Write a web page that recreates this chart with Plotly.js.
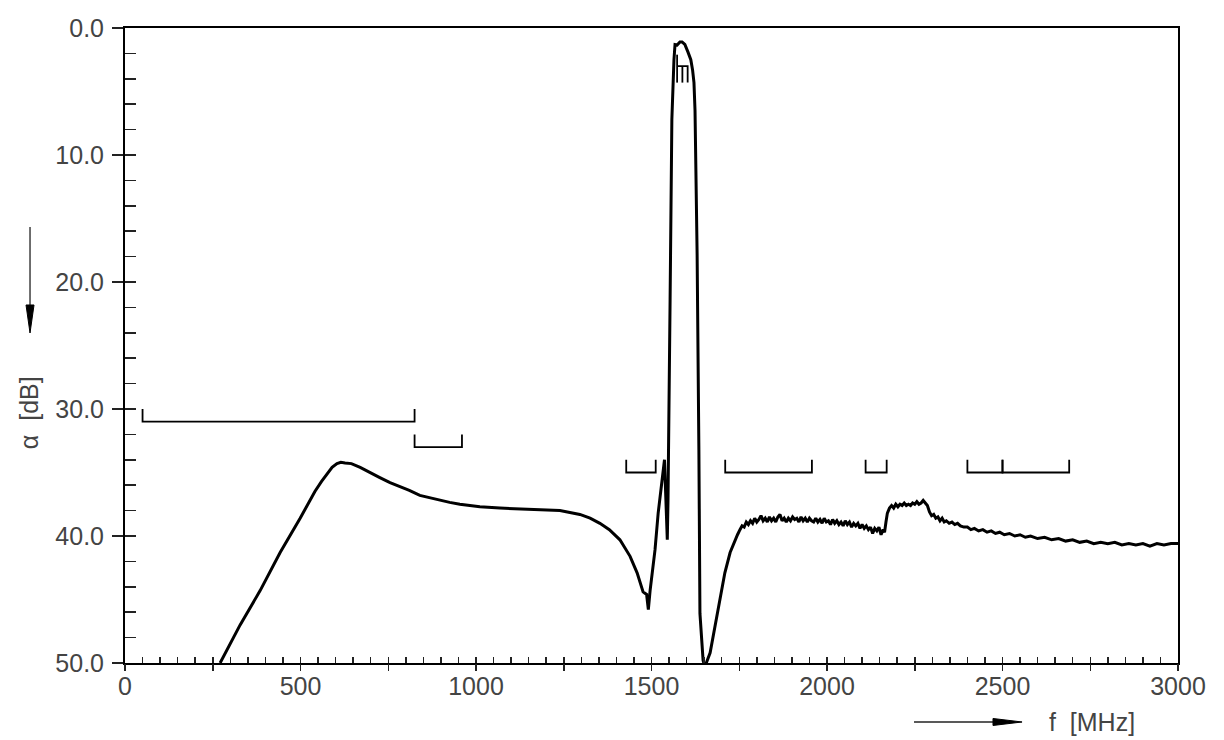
<!DOCTYPE html>
<html>
<head>
<meta charset="utf-8">
<script src="https://cdn.plot.ly/plotly-3.0.1.min.js"></script>
<style>
  html, body { margin: 0; padding: 0; background: #fff; }
  #plot { width: 1224px; height: 740px; }
</style>
</head>
<body>
<div id="plot"></div>
<script>
// measured filter response, read off the plot (f in MHz, attenuation in dB)
// lower stopband up to the left skirt
var lowerF = [
  271, 328, 385, 442, 499, 520, 541, 560, 576, 590,
  604, 615, 627, 645, 670, 700, 726, 755, 783, 810,
  840, 870, 897, 925, 954, 1011, 1068, 1154, 1239, 1296,
  1325, 1353, 1380, 1410, 1439, 1459, 1476, 1486, 1491, 1496,
  1510, 1519, 1529, 1537, 1545, 1547
];
var lowerA = [
  50.0, 47.0, 44.3, 41.3, 38.6, 37.5, 36.5, 35.7, 35.1, 34.6,
  34.3, 34.2, 34.25, 34.3, 34.6, 35.0, 35.4, 35.8, 36.1, 36.4,
  36.8, 37.0, 37.2, 37.35, 37.5, 37.7, 37.8, 37.9, 38.0, 38.3,
  38.6, 39.0, 39.5, 40.3, 41.6, 42.9, 44.4, 44.6, 45.8, 44.3,
  41.1, 38.2, 35.6, 34.0, 40.3, 37.2
];
// passband
var passF = [1553, 1558, 1564, 1567, 1573, 1581, 1587, 1595, 1604, 1612,
             1617, 1621, 1624, 1630, 1635, 1638, 1647, 1652];
var passA = [21.4, 7.2, 2.5, 1.3, 1.34, 1.1, 1.1, 1.3, 1.9, 2.5,
             3.3, 4.3, 6.5, 17.9, 33.2, 46.1, 49.8, 50.3];
// upper stopband
var upperF = [
  1667, 1681, 1695, 1709, 1724, 1738, 1745, 1752, 1758, 1764,
  1770, 1776, 1782, 1788, 1794, 1800, 1806, 1812, 1818, 1824,
  1830, 1836, 1842, 1848, 1854, 1860, 1866, 1872, 1878, 1884,
  1890, 1896, 1902, 1908, 1914, 1920, 1926, 1932, 1938, 1944,
  1950, 1956, 1962, 1968, 1974, 1980, 1986, 1992, 1998, 2004,
  2010, 2016, 2022, 2028, 2034, 2040, 2046, 2052, 2058, 2064,
  2070, 2076, 2082, 2088, 2094, 2100, 2106, 2112, 2118, 2124,
  2130, 2136, 2142, 2148, 2154, 2160, 2164, 2168, 2172, 2178,
  2184, 2190, 2196, 2202, 2208, 2214, 2220, 2226, 2232, 2238,
  2244, 2250, 2256, 2262, 2268, 2274, 2280, 2286, 2292, 2298,
  2304, 2310, 2316, 2322, 2328, 2334, 2340, 2348, 2356, 2364,
  2372, 2380, 2390, 2400, 2410, 2420, 2432, 2444, 2456, 2468,
  2480, 2492, 2505, 2520, 2535, 2550, 2565, 2580, 2600, 2620,
  2640, 2660, 2680, 2700, 2720, 2740, 2760, 2780, 2800, 2820,
  2840, 2860, 2880, 2900, 2920, 2940, 2960, 2980, 3000
];
var upperA = [
  49.2, 47.2, 45.0, 42.9, 41.3, 40.3, 39.9, 39.5, 39.2, 39.3,
  38.9, 39.1, 38.8, 39.0, 38.6, 38.9, 38.7, 38.4, 38.8, 38.6,
  38.9, 38.5, 38.8, 38.6, 38.9, 38.5, 38.3, 38.8, 38.6, 38.9,
  38.6, 38.8, 38.5, 38.7, 38.6, 38.9, 38.5, 38.8, 38.6, 38.9,
  38.6, 38.8, 38.9, 38.6, 38.9, 38.7, 39.0, 38.6, 38.9, 38.8,
  39.1, 38.7, 39.0, 38.8, 39.1, 38.9, 39.2, 38.8, 39.1, 38.9,
  39.3, 39.0, 39.2, 39.0, 39.4, 39.1, 39.4, 39.2, 39.5, 39.3,
  39.8, 39.4, 39.6, 39.3, 39.9, 39.5, 39.7, 38.9, 38.2, 37.8,
  37.6, 37.8, 37.5, 37.7, 37.5, 37.6, 37.4, 37.6, 37.5, 37.6,
  37.4, 37.5, 37.3, 37.5, 37.4, 37.2, 37.4, 37.6, 38.1, 38.4,
  38.3, 38.6, 38.5, 38.8, 38.6, 38.9, 38.8, 39.0, 38.9, 39.1,
  39.0, 39.2, 39.3, 39.3, 39.5, 39.4, 39.6, 39.5, 39.7, 39.6,
  39.8, 39.7, 39.9, 39.8, 40.0, 39.9, 40.1, 40.0, 40.2, 40.1,
  40.3, 40.2, 40.4, 40.3, 40.5, 40.4, 40.6, 40.5, 40.6, 40.5,
  40.7, 40.6, 40.7, 40.6, 40.8, 40.6, 40.7, 40.6, 40.6
];

// stopband requirements (start, end, min attenuation)
var specStart = [50, 825, 1428, 1710, 2110, 2400, 2500];
var specEnd   = [825, 960, 1512, 1957, 2170, 2500, 2690];
var specLevel = [31, 33, 35, 35, 35, 35, 35];

// passband requirement
var pbStart = 1573, pbEnd = 1603, pbLevel = 3.0, pbTickTo = 4.3, pbTop = 2.1;

var fontFam = '"Liberation Sans", Arial, sans-serif';
var labelColor = '#444';

var freqMHz = lowerF.concat(passF, upperF);
var attenDB = lowerA.concat(passA, upperA);

// spec brackets: horizontal line at level, end ticks up by 1 dB
var sx = [], sy = [];
for (var i = 0; i < specStart.length; i++) {
  sx.push(specStart[i], specStart[i], specEnd[i], specEnd[i], null);
  sy.push(specLevel[i] - 1, specLevel[i], specLevel[i], specLevel[i] - 1, null);
}
var pbMid = (pbStart + pbEnd) / 2;
sx.push(pbStart, pbStart, null, pbStart, pbEnd, pbEnd, null, pbMid, pbMid);
sy.push(pbTop, pbTickTo, null, pbLevel, pbLevel, pbTickTo, null, pbLevel, pbTickTo);

var curve = {
  x: freqMHz, y: attenDB, type: 'scatter', mode: 'lines',
  line: {color: '#000', width: 3}, hoverinfo: 'skip'
};
var spec = {
  x: sx, y: sy, xaxis: 'x2', yaxis: 'y2', type: 'scatter', mode: 'lines',
  line: {color: '#000', width: 1.8}, hoverinfo: 'skip'
};
// invisible carrier so the outer tick axis gets its own subplot
var carrier = {
  x: [0], y: [0], xaxis: 'x3', yaxis: 'y', type: 'scatter', mode: 'markers',
  marker: {opacity: 0}, hoverinfo: 'skip'
};

var xLabelVals = [], xLabelText = [], xTickVals = [];
for (var v = 0; v <= 3000; v += 250) {
  xTickVals.push(v);
  if (v % 500 === 0) { xLabelVals.push(v); xLabelText.push(String(v)); }
}

var tickCol = '#222';
var layout = {
  width: 1224, height: 740,
  margin: {l: 125, r: 46, t: 28, b: 77},
  paper_bgcolor: '#fff', plot_bgcolor: '#fff',
  showlegend: false,
  font: {family: fontFam, size: 25, color: labelColor},
  xaxis: {
    range: [0, 3000], tickvals: xLabelVals, ticktext: xLabelText, ticks: '',
    showline: true, linecolor: '#000', linewidth: 2, mirror: true,
    showgrid: false, zeroline: false,
    tickfont: {family: fontFam, size: 25, color: labelColor}
  },
  xaxis2: {
    overlaying: 'x', matches: 'x', anchor: 'y', range: [0, 3000],
    tick0: 0, dtick: 50, ticks: 'inside', ticklen: 6, tickwidth: 1.5, tickcolor: tickCol,
    showticklabels: false, showline: false, showgrid: false, zeroline: false
  },
  xaxis3: {
    overlaying: 'x', matches: 'x', anchor: 'y', range: [0, 3000],
    tickvals: xTickVals, ticks: 'outside', ticklen: 7, tickwidth: 1.5, tickcolor: tickCol,
    showticklabels: false, showline: false, showgrid: false, zeroline: false
  },
  yaxis: {
    range: [50, 0], tick0: 0, dtick: 10, tickformat: '.1f',
    ticks: 'outside', ticklen: 11, tickwidth: 1.5, tickcolor: tickCol,
    ticklabelstandoff: 3,
    showline: true, linecolor: '#000', linewidth: 2, mirror: true,
    showgrid: false, zeroline: false,
    tickfont: {family: fontFam, size: 25, color: labelColor}
  },
  yaxis2: {
    overlaying: 'y', matches: 'y', anchor: 'x', range: [50, 0],
    tick0: 0, dtick: 2, ticks: 'inside', ticklen: 11, tickwidth: 1.5, tickcolor: tickCol,
    showticklabels: false, showline: false, showgrid: false, zeroline: false
  },
  annotations: [
    {text: 'α  [dB]', textangle: -90, xref: 'paper', yref: 'paper',
     x: -0.0912, y: 0.395, xanchor: 'center', yanchor: 'middle', showarrow: false,
     font: {family: fontFam, size: 25, color: labelColor}},
    {text: 'f  [MHz]', xref: 'paper', yref: 'paper',
     x: 0.918, y: -0.093, xanchor: 'center', yanchor: 'middle', showarrow: false,
     font: {family: fontFam, size: 25, color: labelColor}}
  ],
  shapes: [
    // arrow next to the y title, pointing down
    {type: 'line', xref: 'paper', yref: 'paper', x0: -0.0902, x1: -0.0902, y0: 0.6866, y1: 0.5638,
     line: {color: '#222', width: 1.3}},
    {type: 'path', xref: 'paper', yref: 'paper',
     path: 'M -0.0940 0.5638 L -0.0864 0.5638 L -0.0902 0.5197 Z',
     fillcolor: '#000', line: {color: '#000', width: 1}},
    // arrow next to the x title, pointing right
    {type: 'line', xref: 'paper', yref: 'paper', x0: 0.7493, x1: 0.8243, y0: -0.0929, y1: -0.0929,
     line: {color: '#222', width: 1.3}},
    {type: 'path', xref: 'paper', yref: 'paper',
     path: 'M 0.8243 -0.0874 L 0.8243 -0.0984 L 0.8519 -0.0929 Z',
     fillcolor: '#000', line: {color: '#000', width: 1}}
  ]
};

Plotly.newPlot('plot', [curve, spec, carrier], layout, {staticPlot: true, displayModeBar: false});
</script>
</body>
</html>
